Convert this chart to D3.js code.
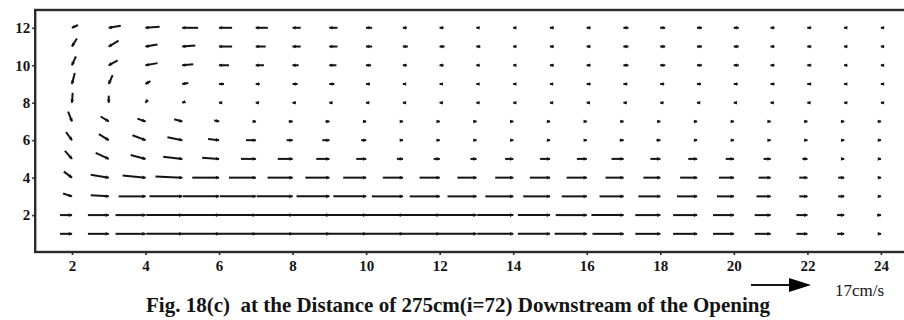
<!DOCTYPE html>
<html>
<head>
<meta charset="utf-8">
<script src="https://cdn.jsdelivr.net/npm/d3@7"></script>
<style>
  body { margin: 0; background: #fff; }
  svg { display: block; }
</style>
</head>
<body>
<svg id="chart" width="904" height="320"></svg>
<script>
// Measuring stations (x) and levels (y) of the velocity grid
const xStations = [2, 3, 4, 5, 6, 7, 8, 9, 10, 11, 12, 13, 14, 15, 16, 17, 18, 19, 20, 21, 22, 23, 24];
const yLevels = [1, 2, 3, 4, 5, 6, 7, 8, 9, 10, 11, 12];
const xTicks = [2, 4, 6, 8, 10, 12, 14, 16, 18, 20, 22, 24];
const yTicks = [2, 4, 6, 8, 10, 12];

// Horizontal velocity u (cm/s), one row per level, bottom row first
const uRows = [
  [3.4, 5.9, 8.5, 10.2, 10.5, 10.5, 10.5, 10.5, 10.5, 10.5, 10.5, 10.5, 10.2, 9.1, 9.1, 8.8, 7.1, 6.8, 5.9, 4.5, 3.1, 2.0, 0.8],
  [3.4, 5.9, 8.5, 10.2, 10.5, 10.5, 10.5, 10.5, 10.5, 10.5, 10.5, 10.5, 10.2, 9.1, 8.8, 9.1, 7.1, 6.8, 5.9, 4.5, 3.1, 2.0, 1.1],
  [2.5, 5.1, 7.6, 9.3, 10.2, 10.2, 10.2, 9.3, 9.3, 8.8, 8.5, 8.2, 7.9, 7.6, 7.1, 6.8, 6.2, 5.7, 4.8, 4.0, 2.3, 1.7, 0.8],
  [2.3, 5.1, 6.5, 7.6, 7.6, 7.6, 7.1, 6.8, 6.5, 5.7, 5.7, 5.4, 5.1, 5.7, 5.7, 5.1, 4.8, 4.8, 4.2, 3.4, 2.3, 1.7, 0.8],
  [2.0, 3.7, 4.2, 5.4, 4.8, 4.2, 4.2, 3.7, 2.8, 1.7, 1.7, 1.7, 2.3, 2.8, 2.8, 3.4, 2.8, 2.5, 2.3, 2.0, 1.4, 0.8, 0.6],
  [1.7, 2.8, 3.7, 4.2, 3.1, 2.8, 1.7, 2.0, 1.4, 0.8, 0.8, 0.6, 0.8, 0.8, 0.6, 1.1, 1.1, 0.8, 0.8, 0.8, 0.8, 0.6, 0.6],
  [1.1, 2.3, 2.3, 2.3, 1.4, 0.8, 1.1, 1.1, 0.8, 0.8, 0.8, 0.8, 0.8, 0.8, 0.8, 0.8, 0.8, 0.8, 0.8, 0.8, 0.8, 0.6, 0.6],
  [-0.2, 0.0, -0.6, -0.8, -0.8, -0.8, -0.8, -0.8, -0.8, -0.8, -0.8, -0.6, -0.6, -0.8, -0.8, -0.8, -0.8, -0.8, -0.8, -0.8, -0.8, -0.6, -0.6],
  [-0.8, -1.1, -1.4, -1.7, -1.4, -1.1, -1.4, -1.4, -1.1, -0.8, -0.8, -0.6, -0.8, -0.8, -1.1, -1.1, -1.1, -1.1, -1.1, -1.1, -1.1, -0.8, -0.8],
  [-1.1, -2.5, -3.4, -3.1, -2.8, -2.3, -1.7, -2.0, -1.4, -1.1, -1.1, -0.8, -0.8, -1.1, -1.1, -1.4, -1.4, -1.4, -1.4, -1.1, -1.1, -0.8, -0.8],
  [-1.4, -2.8, -3.4, -3.7, -3.7, -2.8, -2.3, -2.3, -1.7, -1.4, -1.4, -1.1, -0.8, -1.1, -1.1, -1.4, -1.4, -1.4, -1.4, -1.1, -1.1, -0.8, -0.8],
  [-1.7, -3.4, -4.0, -4.5, -3.7, -3.4, -2.3, -2.3, -1.7, -1.1, -1.1, -0.8, -0.8, -1.1, -1.1, -1.4, -1.4, -1.4, -1.4, -1.1, -1.1, -0.8, -0.8]
];

// Vertical velocity v (cm/s), same layout
const vRows = [
  [0, 0, 0, 0, 0, 0, 0, 0, 0, 0, 0, 0, 0, 0, 0, 0, 0, 0, 0, 0, 0, 0, 0],
  [0, 0, 0, 0, 0, 0, 0, 0, 0, 0, 0, 0, 0, 0, 0, 0, 0, 0, 0, 0, 0, 0, 0],
  [-0.8, -0.3, 0, 0, 0, 0, 0, 0, 0, 0, 0, 0, 0, 0, 0, 0, 0, 0, 0, 0, 0, 0, 0],
  [-1.7, -0.8, -0.6, -0.3, 0, 0, 0, 0, 0, 0, 0, 0, 0, 0, 0, 0, 0, 0, 0, 0, 0, 0, 0],
  [-2.3, -1.7, -1.1, -0.6, -0.3, 0, 0, 0, 0, 0, 0, 0, 0, 0, 0, 0, 0, 0, 0, 0, 0, 0, 0],
  [-2.3, -1.7, -1.4, -0.8, -0.3, 0, 0, 0, 0, 0, 0, 0, 0, 0, 0, 0, 0, 0, 0, 0, 0, 0, 0],
  [-2.8, -1.4, -0.8, -0.6, -0.3, 0, 0, 0, 0, 0, 0, 0, 0, 0, 0, 0, 0, 0, 0, 0, 0, 0, 0],
  [-2.8, -2.0, -0.8, -0.3, 0, 0, 0, 0, 0, 0, 0, 0, 0, 0, 0, 0, 0, 0, 0, 0, 0, 0, 0],
  [-3.1, -2.5, -0.8, -0.3, 0, 0, 0, 0, 0, 0, 0, 0, 0, 0, 0, 0, 0, 0, 0, 0, 0, 0, 0],
  [-2.5, -1.4, -0.6, -0.3, 0, 0, 0, 0, 0, 0, 0, 0, 0, 0, 0, 0, 0, 0, 0, 0, 0, 0, 0],
  [-2.3, -1.7, -0.6, -0.3, 0, 0, 0, 0, 0, 0, 0, 0, 0, 0, 0, 0, 0, 0, 0, 0, 0, 0, 0],
  [-0.8, -0.6, -0.3, 0, 0, 0, 0, 0, 0, 0, 0, 0, 0, 0, 0, 0, 0, 0, 0, 0, 0, 0, 0]
];

const refSpeed = 17;
const refLabel = "17cm/s";
const caption = "Fig. 18(c)  at the Distance of 275cm(i=72) Downstream of the Opening";

const ink = "#141414";
const serif = "'Liberation Serif', 'DejaVu Serif', serif";

const svg = d3.select("#chart");

const x = d3.scaleLinear().domain([1, 25]).range([35.2, 917.7]);
const y = d3.scaleLinear().domain([0.03, 12.95]).range([252, 10]);
// arrow length in px for a given speed
const speed = d3.scaleLinear().domain([0, refSpeed]).range([0, 60]);

// flatten grid into vector records
const vectors = [];
yLevels.forEach((lv, i) => {
  xStations.forEach((st, j) => {
    vectors.push({ st, lv, u: uRows[i][j], v: vRows[i][j] });
  });
});

// plot frame
svg.append("rect")
  .attr("x", x(1)).attr("y", y(12.95))
  .attr("width", x(25) - x(1)).attr("height", y(0.03) - y(12.95))
  .attr("fill", "none").attr("stroke", "#2a2a2a").attr("stroke-width", 2.4);

// axes (ticks and labels only; the frame draws the lines)
const yAxis = svg.append("g")
  .attr("transform", `translate(${x(1)},0)`)
  .call(d3.axisLeft(y).tickValues(yTicks).tickSize(3).tickPadding(2).tickFormat(d3.format("d")));
const xAxis = svg.append("g")
  .attr("transform", `translate(0,${y(0.03)})`)
  .call(d3.axisBottom(x).tickValues(xTicks).tickSize(3).tickPadding(5).tickFormat(d3.format("d")));
[xAxis, yAxis].forEach(g => {
  g.select(".domain").remove();
  g.selectAll(".tick line").attr("stroke", "#2a2a2a").attr("stroke-width", 1.6);
  g.selectAll(".tick text")
    .attr("fill", ink)
    .style("font-family", serif)
    .style("font-weight", "bold")
    .style("font-size", "15px");
});

// velocity vectors: tail at P - (u,v), head at the grid node
const vec = svg.append("g");
vectors.forEach(d => {
  const px = x(d.st), py = y(d.lv);
  const dx = speed(d.u), dy = -speed(d.v);
  const len = Math.hypot(dx, dy);
  const ux = len > 0 ? dx / len : 1, uy = len > 0 ? dy / len : 0;
  vec.append("line")
    .attr("x1", px - dx).attr("y1", py - dy)
    .attr("x2", px).attr("y2", py)
    .attr("stroke", ink).attr("stroke-width", 2);
  const hl = 3.2, hw = 1.8;
  const bx = px - ux * hl, by = py - uy * hl;
  vec.append("polygon")
    .attr("points", [
      [px + ux * 0.6, py + uy * 0.6],
      [bx - uy * hw, by + ux * hw],
      [bx + uy * hw, by - ux * hw]
    ].map(p => p.join(",")).join(" "))
    .attr("fill", ink);
});

// reference arrow
const legend = svg.append("g");
const tipX = 811, ly = 285;
const tailX = tipX - speed(refSpeed);
legend.append("line")
  .attr("x1", tailX).attr("y1", ly).attr("x2", tipX - 20).attr("y2", ly)
  .attr("stroke", ink).attr("stroke-width", 1.8);
legend.append("polygon")
  .attr("points", `${tipX},${ly} ${tipX - 22},${ly - 7} ${tipX - 22},${ly + 7}`)
  .attr("fill", "#000");
legend.append("text")
  .attr("x", 835).attr("y", 296)
  .attr("fill", ink)
  .style("font-family", serif)
  .style("font-size", "17px")
  .text(refLabel);

// caption
svg.append("text")
  .attr("x", 458).attr("y", 312)
  .attr("text-anchor", "middle")
  .attr("fill", ink)
  .style("white-space", "pre")
  .style("font-family", serif)
  .style("font-weight", "bold")
  .style("font-size", "21px")
  .text(caption);
</script>
</body>
</html>
